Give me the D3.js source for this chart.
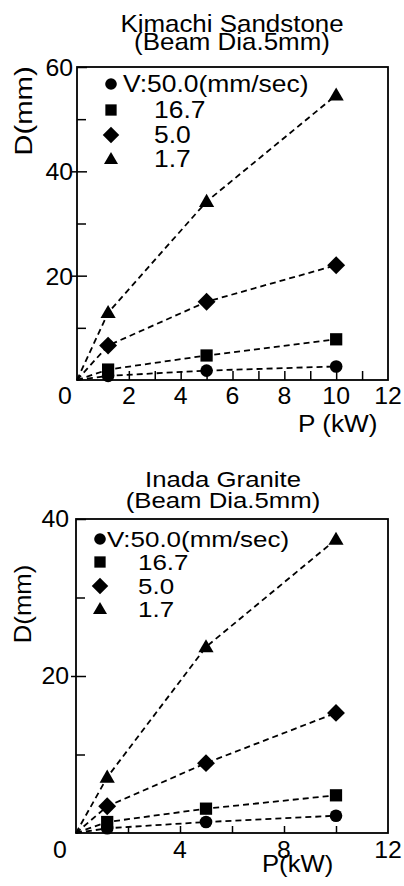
<!DOCTYPE html>
<html>
<head>
<meta charset="utf-8">
<script src="https://cdn.jsdelivr.net/npm/d3@7"></script>
<style>
  html, body { margin: 0; padding: 0; background: #fff; }
  svg { display: block; }
  text { font-family: "Liberation Sans", Arial, Helvetica, sans-serif; fill: #000; }
</style>
</head>
<body>
<svg id="chart" width="404" height="886"></svg>
<script>
// ---------- DATA ----------
const powerKW = [0, 1.2, 5, 10];               // P (kW); lines start at origin
const seriesNames = ["V:50.0(mm/sec)", "16.7", "5.0", "1.7"];
const seriesShapes = ["circle", "square", "diamond", "triangle"];

// Kimachi Sandstone  D (mm)
const kimachiV50  = [0, 0.8, 1.8, 2.6];
const kimachiV167 = [0, 2.0, 4.7, 7.8];
const kimachiV5   = [0, 6.6, 15.0, 22.0];
const kimachiV17  = [0, 12.9, 34.2, 54.6];

// Inada Granite  D (mm)
const inadaV50  = [0, 0.6, 1.4, 2.2];
const inadaV167 = [0, 1.4, 3.1, 4.8];
const inadaV5   = [0, 3.4, 8.9, 15.3];
const inadaV17  = [0, 7.1, 23.7, 37.4];

const kimachiTitle = ["Kimachi Sandstone", "(Beam Dia.5mm)"];
const inadaTitle   = ["Inada Granite", "(Beam Dia.5mm)"];

const kimachiXTicks = [1,2,3,4,5,6,7,8,9,10,11];
const kimachiXLabels = [0,2,4,6,8,10,12];
const kimachiYMajor = [20, 40, 60];
const kimachiYMinor = [10, 30, 50];

const inadaXTicks = [2,4,6,8,10];
const inadaXLabels = [0,4,8,12];
const inadaYMajor = [20, 40];
const inadaYMinor = [10, 30];

// ---------- DRAW ----------
const svg = d3.select("#chart");

function stext(g, x, y, str, size, stretch, anchor, rotate) {
  const t = g.append("g")
    .attr("transform", `translate(${x},${y})` + (rotate ? ` rotate(${rotate})` : "") + ` scale(${stretch},1)`);
  t.append("text")
    .attr("text-anchor", anchor || "start")
    .style("font-size", size + "px")
    .text(str);
  return t;
}

function symbolPath(shape, k) {
  const sizes = { circle: 125 * k, square: 150 * k, diamond: 160 * k, triangle: 100 * k };
  const types = { circle: d3.symbolCircle, square: d3.symbolSquare, diamond: d3.symbolSquare, triangle: d3.symbolTriangle };
  return d3.symbol().type(types[shape]).size(sizes[shape])();
}

function drawMarker(g, shape, cx, cy, k) {
  g.append("path")
    .attr("d", symbolPath(shape, k))
    .attr("transform", `translate(${cx},${cy})` + (shape === "diamond" ? " rotate(45)" : "") + (shape === "triangle" ? " translate(0,1)" : ""))
    .attr("fill", "#000");
}

function drawPanel(cfg) {
  const g = svg.append("g");
  const x = d3.scaleLinear().domain([0, 12]).range([cfg.left, cfg.right]);
  const y = d3.scaleLinear().domain([0, cfg.yMax]).range([cfg.bottom, cfg.top]);

  // titles
  stext(g, cfg.titleX, cfg.titleY[0], cfg.title[0], cfg.titleSize, cfg.titleStretch, "middle");
  stext(g, cfg.titleX, cfg.titleY[1], cfg.title[1], cfg.titleSize, cfg.titleStretch, "middle");

  // frame
  g.append("rect")
    .attr("x", x(0)).attr("y", y(cfg.yMax))
    .attr("width", x(12) - x(0)).attr("height", y(0) - y(cfg.yMax))
    .attr("fill", "none").attr("stroke", "#000").attr("stroke-width", 1.8);

  // x ticks (inside)
  const xa = g.append("g").attr("transform", `translate(0,${y(0)})`)
    .call(d3.axisTop(x).tickValues(cfg.xTicks).tickSize(cfg.xTickLen).tickFormat(""));
  xa.select(".domain").remove();
  xa.selectAll("line").attr("stroke", "#000").attr("stroke-width", 1.5);

  // y ticks: majors inside + outside, minors inside
  const ya1 = g.append("g").attr("transform", `translate(${x(0)},0)`)
    .call(d3.axisRight(y).tickValues(cfg.yMajor).tickSize(10).tickFormat(""));
  const ya2 = g.append("g").attr("transform", `translate(${x(0)},0)`)
    .call(d3.axisLeft(y).tickValues(cfg.yMajor.filter(v => v < cfg.yMax)).tickSize(5).tickFormat(""));
  const ya3 = g.append("g").attr("transform", `translate(${x(0)},0)`)
    .call(d3.axisRight(y).tickValues(cfg.yMinor).tickSize(9).tickFormat(""));
  [ya1, ya2, ya3].forEach(a => {
    a.select(".domain").remove();
    a.selectAll("line").attr("stroke", "#000").attr("stroke-width", 1.5);
  });

  // x tick labels (the corner "0" is shared by both axes)
  cfg.xLabels.forEach(v => {
    const px = v === 0 ? cfg.zeroX : x(v);
    stext(g, px, cfg.xLabelY, String(v), cfg.tickSize, 1.08, "middle");
  });
  // y tick labels
  cfg.yMajor.forEach(v => {
    stext(g, cfg.yLabelRight, y(v) + cfg.yLabelDy, String(v), cfg.tickSize, 1.08, "end");
  });

  // axis titles
  stext(g, cfg.xTitleX, cfg.xTitleY, cfg.xTitle, 24, cfg.xTitleStretch, "start");
  stext(g, cfg.yTitleX, cfg.yTitleY, "D(mm)", 24, cfg.yTitleStretch, "middle", -90);

  // series
  const line = d3.line().x((d, i) => x(powerKW[i])).y(d => y(d));
  cfg.series.forEach((vals) => {
    g.append("path")
      .attr("d", line(vals))
      .attr("fill", "none").attr("stroke", "#000")
      .attr("stroke-width", 1.8).attr("stroke-dasharray", "6,4");
  });
  cfg.series.forEach((vals, si) => {
    vals.forEach((v, i) => {
      if (powerKW[i] === 0) return;
      drawMarker(g, seriesShapes[si], x(powerKW[i]), y(v), 1);
    });
  });

  // legend
  seriesNames.forEach((name, i) => {
    const by = cfg.legendY[i];
    drawMarker(g, seriesShapes[i], cfg.legendMarkerX, by - 8, 0.85);
    stext(g, i === 0 ? cfg.legendTextX0 : cfg.legendTextX, by, name, cfg.legendSize, cfg.legendStretch, "start");
  });
}

drawPanel({
  left: 77, right: 388, top: 67, bottom: 380, yMax: 60,
  title: kimachiTitle, titleX: 232, titleY: [32, 50], titleSize: 24, titleStretch: 1.08,
  xTicks: kimachiXTicks, xTickLen: 9, xLabels: kimachiXLabels, zeroX: 65, xLabelY: 404,
  yMajor: kimachiYMajor, yMinor: kimachiYMinor,
  yLabelRight: 73, yLabelDy: 9, tickSize: 23,
  xTitle: "P (kW)", xTitleX: 298, xTitleY: 432, xTitleStretch: 1.09,
  yTitleX: 32, yTitleY: 111, yTitleStretch: 1.22,
  series: [kimachiV50, kimachiV167, kimachiV5, kimachiV17],
  legendY: [92, 118, 143, 167], legendMarkerX: 111, legendTextX0: 123, legendTextX: 154,
  legendSize: 23, legendStretch: 1.15
});

drawPanel({
  left: 76, right: 388, top: 519, bottom: 833, yMax: 40,
  title: inadaTitle, titleX: 223, titleY: [487, 508], titleSize: 23, titleStretch: 1.12,
  xTicks: inadaXTicks, xTickLen: 7, xLabels: inadaXLabels, zeroX: 60, xLabelY: 858,
  yMajor: inadaYMajor, yMinor: inadaYMinor,
  yLabelRight: 69, yLabelDy: 8, tickSize: 23,
  xTitle: "P(kW)", xTitleX: 262, xTitleY: 872, xTitleStretch: 1.07,
  yTitleX: 31, yTitleY: 604, yTitleStretch: 1.07,
  series: [inadaV50, inadaV167, inadaV5, inadaV17],
  legendY: [547, 570, 594, 617], legendMarkerX: 100, legendTextX0: 107, legendTextX: 138,
  legendSize: 22, legendStretch: 1.18
});
</script>
</body>
</html>
